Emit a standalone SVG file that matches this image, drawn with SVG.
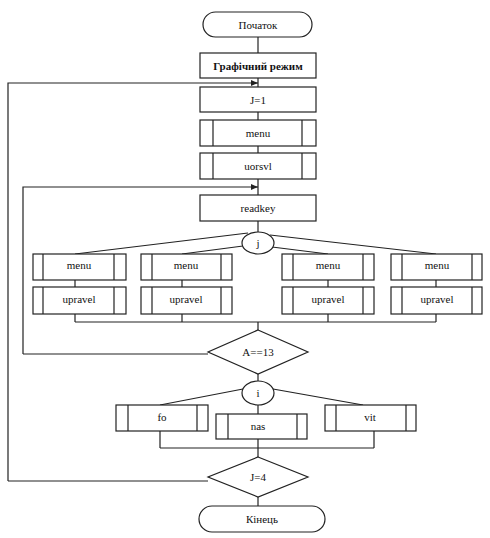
<svg xmlns="http://www.w3.org/2000/svg" width="490" height="538" viewBox="0 0 490 538">
<style>
.s{fill:#fff;stroke:#222;stroke-width:1.2}
.l{fill:none;stroke:#222;stroke-width:1.2}
text{font-family:"Liberation Serif","Times New Roman",serif;font-size:11px;fill:#111;text-anchor:middle;dominant-baseline:central}
</style>
<defs>
<marker id="ar" markerWidth="8" markerHeight="8" refX="7" refY="4" orient="auto" markerUnits="userSpaceOnUse">
<path d="M0,1 L7,4 L0,7 Z" fill="#222"/>
</marker>
</defs>
<rect width="490" height="538" fill="#fff"/>
<g id="connectors">
<path class="l" d="M258,37 V53"/>
<path class="l" d="M258,78 V87"/>
<path class="l" d="M8,481 H208 M8,481 V83 H258" marker-end="url(#ar)"/>
<path class="l" d="M258,112 V120"/>
<path class="l" d="M258,146 V153"/>
<path class="l" d="M258,179 V195"/>
<path class="l" d="M23,354 H208 M23,354 V187 H258" marker-end="url(#ar)"/>
<path class="l" d="M258,221 V232"/>
<path class="l" d="M248,233 L75,254"/>
<path class="l" d="M243,246 L182,254"/>
<path class="l" d="M272,247 L328,254"/>
<path class="l" d="M270,235 L436,254"/>
<path class="l" d="M75,280 V287 M182,280 V287 M328,280 V287 M436,280 V287"/>
<path class="l" d="M75,314 V322 M182,314 V322 M328,314 V322 M436,314 V322 M75,322 H436 M258,322 V330"/>
<path class="l" d="M258,374 V381"/>
<path class="l" d="M243,389 L160,405"/>
<path class="l" d="M258,405 V414"/>
<path class="l" d="M273,389 L363,405"/>
<path class="l" d="M160,431 V448 M258,439 V457 M374,431 V448 M160,448 H374"/>
<path class="l" d="M258,497 V506"/>
</g>
<g id="start"><rect class="s" x="203" y="12" width="109" height="25" rx="12.5"/><text x="258" y="25">Початок</text></g>
<g id="graph"><rect class="s" x="200" y="53" width="116" height="25"/><text x="258" y="66" font-weight="bold">Графічний режим</text></g>
<g id="j1"><rect class="s" x="200" y="87" width="116" height="25"/><text x="258" y="100">J=1</text></g>
<g id="menu0"><rect class="s" x="200" y="120" width="116" height="26"/><path class="l" d="M213,120 V146 M302,120 V146"/><text x="258" y="133">menu</text></g>
<g id="uorsvl"><rect class="s" x="200" y="153" width="116" height="26"/><path class="l" d="M213,153 V179 M302,153 V179"/><text x="258" y="166">uorsvl</text></g>
<g id="readkey"><rect class="s" x="200" y="195" width="116" height="26"/><text x="258" y="208">readkey</text></g>
<g id="sel_j"><ellipse class="s" cx="258" cy="243" rx="16" ry="11"/><text x="258" y="243">j</text></g>
<g id="menu1"><rect class="s" x="33" y="254" width="93" height="26"/><path class="l" d="M43,254 V280 M114,254 V280"/><text x="79" y="265">menu</text></g>
<g id="menu2"><rect class="s" x="141" y="254" width="91" height="26"/><path class="l" d="M152,254 V280 M221,254 V280"/><text x="186" y="265">menu</text></g>
<g id="menu3"><rect class="s" x="282" y="254" width="92" height="26"/><path class="l" d="M293,254 V280 M363,254 V280"/><text x="328" y="265">menu</text></g>
<g id="menu4"><rect class="s" x="391" y="254" width="91" height="26"/><path class="l" d="M402,254 V280 M472,254 V280"/><text x="437" y="265">menu</text></g>
<g id="upr1"><rect class="s" x="33" y="287" width="93" height="27"/><path class="l" d="M43,287 V314 M114,287 V314"/><text x="79" y="299">upravel</text></g>
<g id="upr2"><rect class="s" x="141" y="287" width="91" height="27"/><path class="l" d="M152,287 V314 M221,287 V314"/><text x="186" y="299">upravel</text></g>
<g id="upr3"><rect class="s" x="282" y="287" width="92" height="27"/><path class="l" d="M293,287 V314 M363,287 V314"/><text x="328" y="299">upravel</text></g>
<g id="upr4"><rect class="s" x="391" y="287" width="91" height="27"/><path class="l" d="M402,287 V314 M472,287 V314"/><text x="437" y="299">upravel</text></g>
<g id="a13"><path class="s" d="M258,330 L308,352 L258,374 L208,352 Z"/><text x="258" y="352">A==13</text></g>
<g id="sel_i"><ellipse class="s" cx="258" cy="393" rx="16" ry="12"/><text x="258" y="393">i</text></g>
<g id="fo"><rect class="s" x="116" y="405" width="92" height="26"/><path class="l" d="M128,405 V431 M197,405 V431"/><text x="162" y="417">fo</text></g>
<g id="nas"><rect class="s" x="216" y="414" width="91" height="25"/><path class="l" d="M228,414 V439 M297,414 V439"/><text x="258" y="426">nas</text></g>
<g id="vit"><rect class="s" x="325" y="405" width="91" height="26"/><path class="l" d="M336,405 V431 M406,405 V431"/><text x="370" y="417">vit</text></g>
<g id="j4"><path class="s" d="M258,457 L308,477 L258,497 L208,477 Z"/><text x="258" y="477">J=4</text></g>
<g id="end"><rect class="s" x="199" y="506" width="126" height="26" rx="13"/><text x="262" y="519">Кінець</text></g>
</svg>
